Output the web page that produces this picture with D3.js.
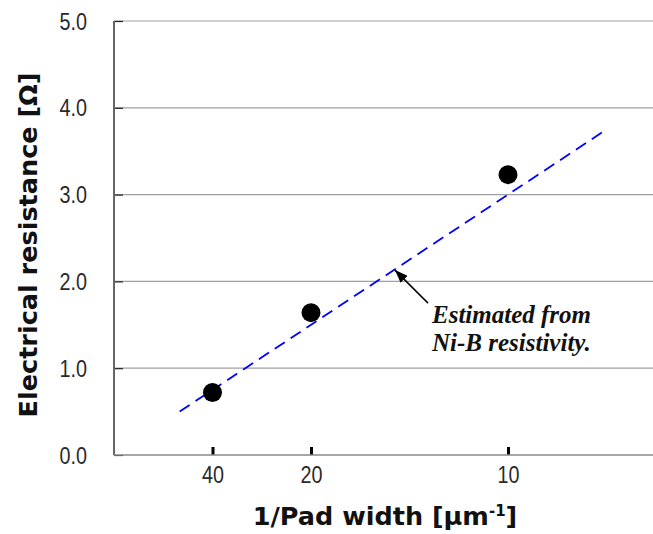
<!DOCTYPE html>
<html>
<head>
<meta charset="utf-8">
<script src="https://cdn.jsdelivr.net/npm/d3@7"></script>
<style>
  body { margin: 0; background: #fff; }
  .tick-label { font-family: "Liberation Sans", sans-serif; font-size: 23px; fill: #2a2a2a; }
  .axis-title { font-family: "DejaVu Sans", sans-serif; font-weight: 700; font-size: 25.5px; fill: #111; }
  .note { font-family: "Liberation Serif", "Times New Roman", serif; font-weight: bold; font-style: italic; font-size: 25px; fill: #111; }
</style>
</head>
<body>
<div id="chartContainer"></div>
<script>
// pad widths in µm, plotted as 1/width
const padWidths = [40, 20, 10];
const resistance = [0.72, 1.64, 3.23];
const yTicks = [0, 1, 2, 3, 4, 5];
// estimate from Ni-B resistivity
const estX = [1 / 60, 1 / 8];
const estY = [0.5, 3.75];
const noteLines = ['Estimated from', 'Ni-B resistivity.'];

const svgWidth = 653;
const svgHeight = 534;
const margin = { top: 21, left: 114, bottom: 79 };
const narrow = 0.86;

const svg = d3.select('#chartContainer')
    .append('svg')
    .attr('width', svgWidth)
    .attr('height', svgHeight);

const xScale = d3.scaleLinear()
    .domain([0, 0.14])
    .range([margin.left, margin.left + 0.14 * 3940]);

const yScale = d3.scaleLinear()
    .domain([0, 5])
    .range([svgHeight - margin.bottom, margin.top]);

// grid lines
svg.append('g')
    .selectAll('line')
    .data(yTicks.slice(1))
    .enter().append('line')
    .attr('x1', margin.left)
    .attr('x2', svgWidth)
    .attr('y1', d => yScale(d))
    .attr('y2', d => yScale(d))
    .attr('stroke', '#a0a0a0')
    .attr('stroke-width', 1.2);

// y axis
const yAxis = d3.axisRight(yScale)
    .tickValues(yTicks)
    .tickSize(9)
    .tickFormat(d3.format('.1f'));
const yG = svg.append('g')
    .attr('transform', `translate(${margin.left},0)`)
    .call(yAxis);
yG.attr('font-size', null).attr('font-family', null);
yG.select('.domain').remove();
yG.selectAll('.tick line').attr('stroke', '#222').attr('stroke-width', 1.2);
yG.selectAll('.tick text')
    .attr('class', 'tick-label')
    .attr('x', null)
    .attr('dy', '0.35em')
    .attr('text-anchor', 'end')
    .attr('transform', `translate(-27,0) scale(${narrow},1)`);

svg.append('line')
    .attr('x1', margin.left).attr('x2', margin.left)
    .attr('y1', yScale(5)).attr('y2', yScale(0))
    .attr('stroke', '#666')
    .attr('stroke-width', 2);

// x axis
const xAxis = d3.axisTop(xScale)
    .tickValues(padWidths.map(w => 1 / w))
    .tickSize(8)
    .tickFormat(d => Math.round(1 / d));
const xG = svg.append('g')
    .attr('transform', `translate(0,${yScale(0)})`)
    .call(xAxis);
xG.attr('font-size', null).attr('font-family', null);
xG.select('.domain').remove();
xG.selectAll('.tick line').attr('stroke', '#000').attr('stroke-width', 3);
xG.selectAll('.tick text')
    .attr('class', 'tick-label')
    .attr('y', null)
    .attr('dy', null)
    .attr('text-anchor', 'middle')
    .attr('transform', `translate(0,28) scale(${narrow},1)`);

svg.append('line')
    .attr('x1', margin.left).attr('x2', svgWidth)
    .attr('y1', yScale(0)).attr('y2', yScale(0))
    .attr('stroke', '#888')
    .attr('stroke-width', 1.5);

// estimated line
const line = d3.line()
    .x(d => xScale(d[0]))
    .y(d => yScale(d[1]));
svg.append('path')
    .datum(d3.zip(estX, estY))
    .attr('d', line)
    .attr('fill', 'none')
    .attr('stroke', '#0000ff')
    .attr('stroke-width', 1.8)
    .attr('stroke-dasharray', '12,7');

// measured points
svg.append('g')
    .selectAll('circle')
    .data(d3.zip(padWidths, resistance))
    .enter().append('circle')
    .attr('cx', d => xScale(1 / d[0]))
    .attr('cy', d => yScale(d[1]))
    .attr('r', 9.5)
    .attr('fill', '#000');

// annotation arrow
svg.append('defs').append('marker')
    .attr('id', 'arrow')
    .attr('viewBox', '0 0 13 10')
    .attr('refX', 13).attr('refY', 5)
    .attr('markerWidth', 13).attr('markerHeight', 10)
    .attr('markerUnits', 'userSpaceOnUse')
    .attr('orient', 'auto')
    .append('path')
    .attr('d', 'M0,0L13,5L0,10Z')
    .attr('fill', '#000');

svg.append('line')
    .attr('x1', xScale(0.0797)).attr('y1', yScale(1.75))
    .attr('x2', xScale(0.0713)).attr('y2', yScale(2.13))
    .attr('stroke', '#000')
    .attr('stroke-width', 1.5)
    .attr('marker-end', 'url(#arrow)');

svg.append('g')
    .selectAll('text')
    .data(noteLines)
    .enter().append('text')
    .attr('class', 'note')
    .attr('x', 432)
    .attr('y', (d, i) => 323 + i * 28)
    .text(d => d);

// axis titles
svg.append('text')
    .attr('class', 'axis-title')
    .attr('text-anchor', 'middle')
    .attr('transform', 'translate(37,245) rotate(-90)')
    .text('Electrical resistance [Ω]');

const xt = svg.append('text')
    .attr('class', 'axis-title')
    .attr('text-anchor', 'middle')
    .attr('x', 385)
    .attr('y', 525);
xt.append('tspan').text('1/Pad width [μm');
xt.append('tspan').text('-1').attr('font-size', '15px').attr('dy', -9);
xt.append('tspan').text(']').attr('dy', 9);
</script>
</body>
</html>
